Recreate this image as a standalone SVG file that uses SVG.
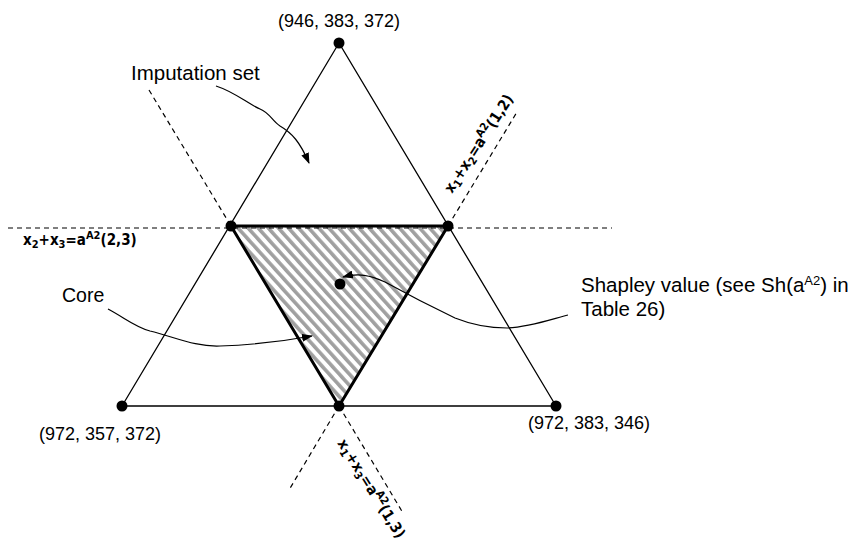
<svg xmlns="http://www.w3.org/2000/svg" width="850" height="545" viewBox="0 0 850 545">
<style>
.t{font-family:"Liberation Sans",Arial,sans-serif;fill:#000}
.b{font-family:"DejaVu Sans Condensed","DejaVu Sans",Verdana,sans-serif;font-stretch:condensed;font-weight:bold;font-size:15px;fill:#000}
.edge{stroke:#000;stroke-width:1.3;fill:none}
.core{stroke:#000;stroke-width:3;fill:url(#hatch);stroke-linejoin:round}
.dash{stroke:#000;stroke-width:1.2;stroke-dasharray:5 4;fill:none}
.arr{stroke:#000;stroke-width:1.2;fill:none;marker-end:url(#ah)}
.dot{fill:#000}
</style>
<defs>
<pattern id="hatch" width="7.5" height="7.5" patternUnits="userSpaceOnUse" patternTransform="rotate(-42)">
<rect width="7.5" height="7.5" fill="#fff"/>
<rect width="3.6" height="7.5" fill="#a0a0a0"/>
</pattern>
<marker id="ah" markerUnits="userSpaceOnUse" markerWidth="11" markerHeight="8" refX="10" refY="4" orient="auto">
<path d="M0,0 L11,4 L0,8 z" fill="#000"/>
</marker>
</defs>
<rect width="850" height="545" fill="#fff"/>

<g id="connectors">
<polygon class="edge" points="339,43 122,406 556,406"/>
<polygon class="core" points="231,226 448,226 339,406"/>
<line class="dash" x1="8" y1="228" x2="612" y2="228"/>
<line class="dash" x1="149" y1="90" x2="231" y2="226"/>
<line class="dash" x1="339" y1="406" x2="403" y2="513"/>
<line class="dash" x1="448" y1="226" x2="517" y2="112"/>
<line class="dash" x1="339" y1="406" x2="289" y2="490"/>
<path class="arr" d="M216,86 C235,92 248,104 260,109 C270,113 272,121 280,126 C292,133 300,142 309,163"/>
<path class="arr" d="M108,309 C125,318 135,327 150,331 C175,337 195,347 220,346 C250,345 285,341 312,336"/>
<path class="arr" d="M568,315 C555,318 530,327 507,328 C485,328 470,324 455,318 C430,306 405,293 385,282 C370,275 358,273 343,277"/>
</g>

<g id="v-top"><circle class="dot" cx="339" cy="43" r="5.5"/><text class="t" font-size="18" x="339" y="27" text-anchor="middle">(946, 383, 372)</text></g>
<g id="v-left"><circle class="dot" cx="122" cy="406" r="5.5"/><text class="t" font-size="18" x="100" y="440" text-anchor="middle">(972, 357, 372)</text></g>
<g id="v-right"><circle class="dot" cx="556" cy="406" r="5.5"/><text class="t" font-size="18" x="589" y="429" text-anchor="middle">(972, 383, 346)</text></g>
<g id="c-left"><circle class="dot" cx="231" cy="226" r="5.5"/></g>
<g id="c-right"><circle class="dot" cx="448" cy="226" r="5.5"/></g>
<g id="c-bottom"><circle class="dot" cx="339" cy="406" r="5.5"/></g>
<g id="shapley"><circle class="dot" cx="340" cy="284" r="5.5"/></g>

<g id="imputation-label"><text class="t" font-size="20.5" x="131" y="80">Imputation set</text></g>
<g id="core-label"><text class="t" font-size="19.5" x="62" y="302">Core</text></g>
<g id="shapley-label"><text class="t" font-size="20.5" x="581" y="292">Shapley value (see Sh(a<tspan font-size="13" dy="-7">A2</tspan><tspan dy="7">) in</tspan></text><text class="t" font-size="20.5" x="581" y="316">Table 26)</text></g>

<g id="line23-label"><text class="b" x="23" y="245">x<tspan font-size="11" dy="3">2</tspan><tspan dy="-3">+x</tspan><tspan font-size="11" dy="3">3</tspan><tspan dy="-3">=a</tspan><tspan font-size="11" dy="-6">A2</tspan><tspan dy="6">(2,3)</tspan></text></g>
<g id="line12-label"><text class="b" x="0" y="0" transform="translate(452,194) rotate(-57)">x<tspan font-size="11" dy="3">1</tspan><tspan dy="-3">+x</tspan><tspan font-size="11" dy="3">2</tspan><tspan dy="-3">=a</tspan><tspan font-size="11" dy="-6">A2</tspan><tspan dy="6">(1,2)</tspan></text></g>
<g id="line13-label"><text class="b" x="0" y="0" transform="translate(337,443) rotate(58)">x<tspan font-size="11" dy="3">1</tspan><tspan dy="-3">+x</tspan><tspan font-size="11" dy="3">3</tspan><tspan dy="-3">=a</tspan><tspan font-size="11" dy="-6">A2</tspan><tspan dy="6">(1,3)</tspan></text></g>
</svg>
